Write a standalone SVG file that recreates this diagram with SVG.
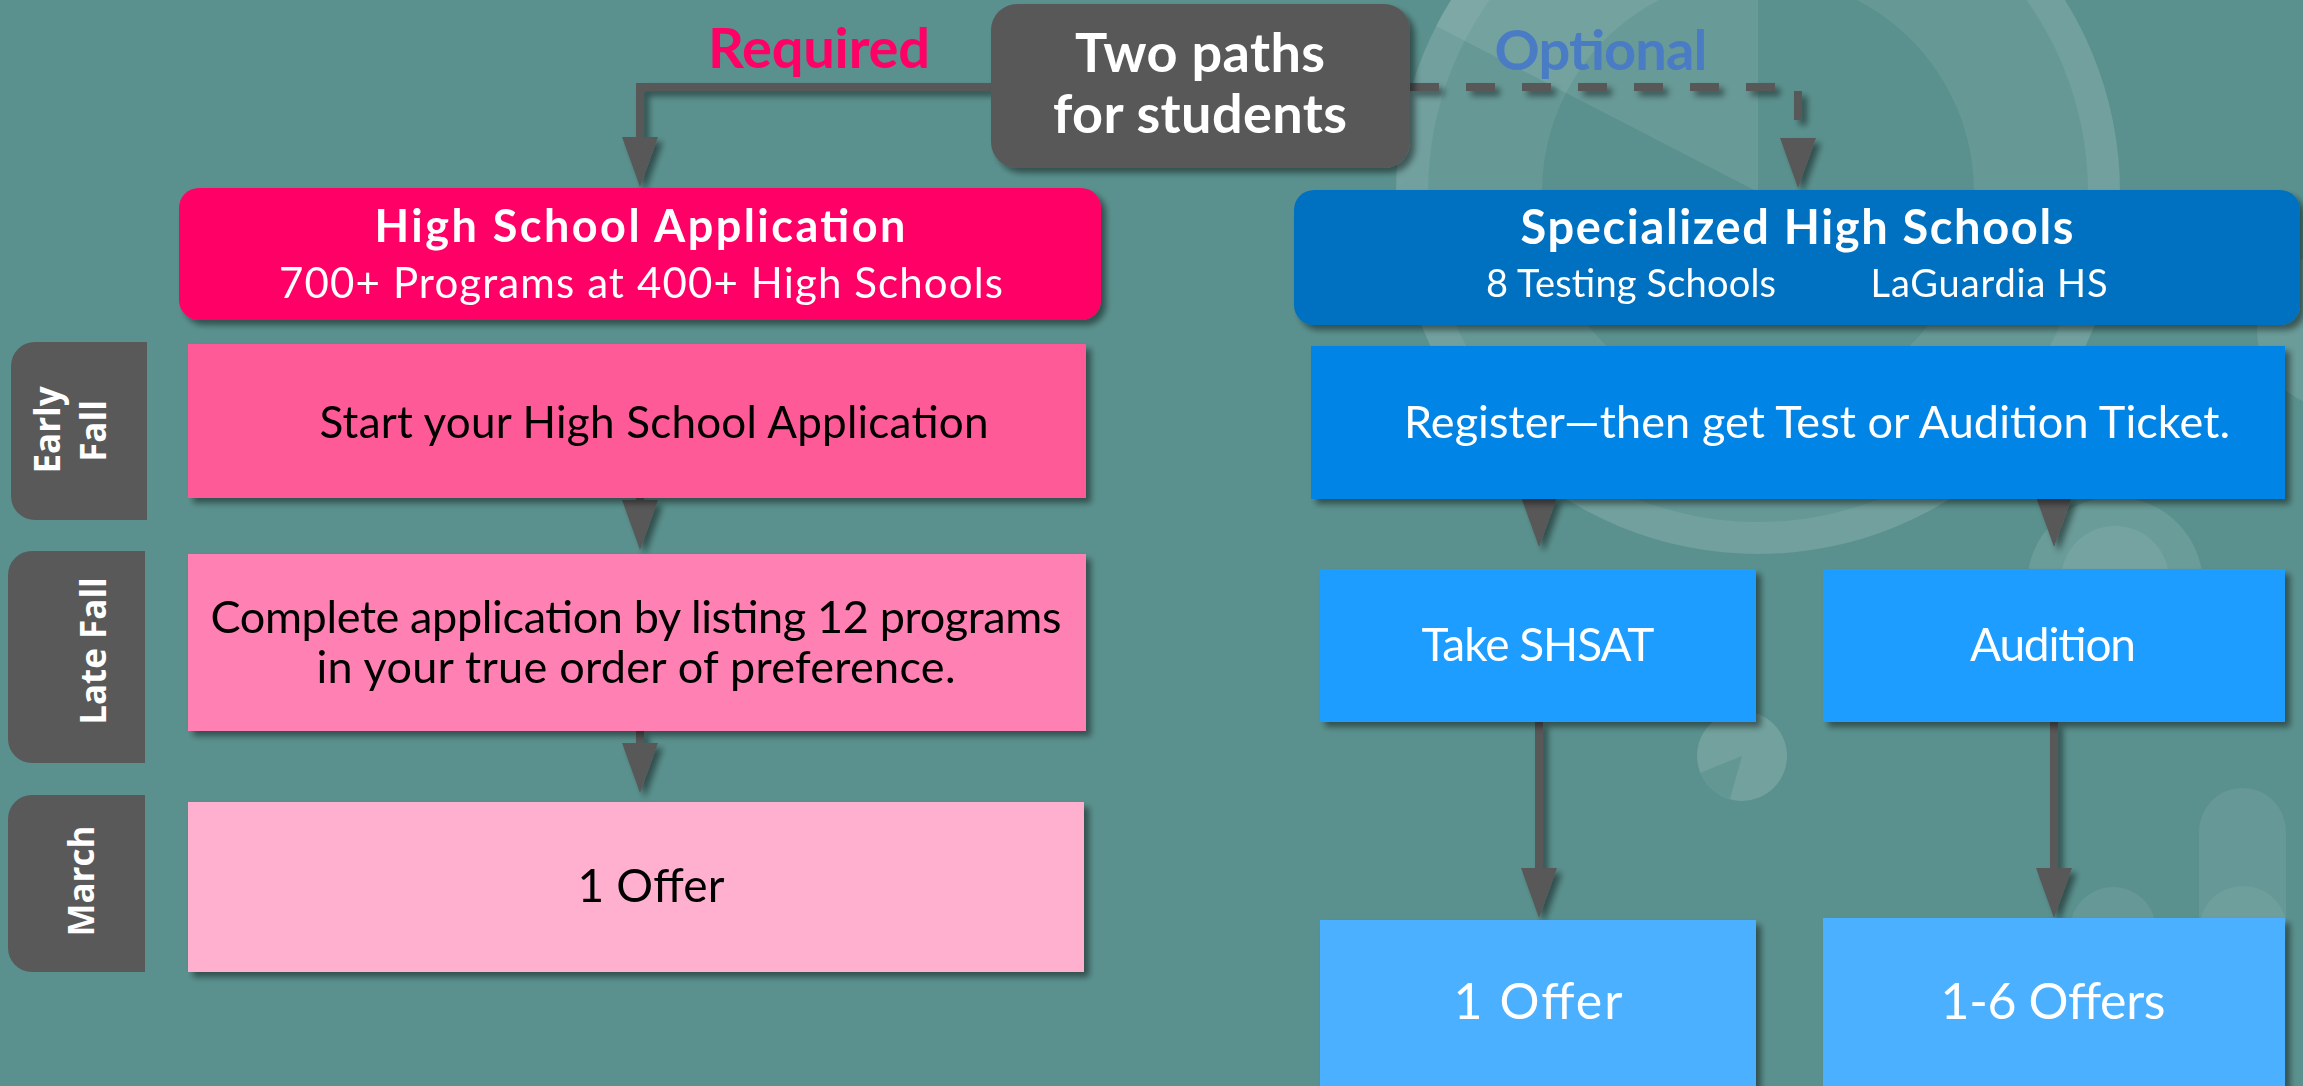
<svg xmlns="http://www.w3.org/2000/svg" width="2303" height="1086" viewBox="0 0 2303 1086">
<style>
.sans{font-family:Lato,"Liberation Sans",sans-serif}
.tab{fill:#595959}
.tabt{font-family:"Open Sans","Liberation Sans",sans-serif;font-weight:700;font-size:35px;fill:#fff}
.wh{fill:#fff}
.bk{fill:#000}
.b{font-weight:700}
.conn{fill:none;stroke:#595959;stroke-width:8}
</style>
<defs>
<filter id="sh" x="-10%" y="-10%" width="130%" height="140%">
<feDropShadow dx="5" dy="5" stdDeviation="3" flood-color="#000" flood-opacity="0.45"/>
</filter>
<marker id="arr" markerUnits="userSpaceOnUse" viewBox="0 0 50 36" markerWidth="50" markerHeight="36" refX="38" refY="18" orient="auto">
<path d="M0,0 L50,18 L0,36 Z" fill="#595959"/>
</marker>
</defs>
<rect x="0" y="0" width="2303" height="1086" fill="#5A918E"/>
<g id="background-decor">
<circle cx="1758" cy="192" r="362" fill="#fff" fill-opacity="0.14"/>
<circle cx="1758" cy="192" r="330" fill="#669996"/>
<circle cx="1758" cy="192" r="216" fill="#5A918E"/>
<path d="M1758,192 L1436,26 A362,362 0 0 1 1758,-170 Z" fill="#fff" fill-opacity="0.09"/>
<circle cx="2115" cy="585" r="88" fill="#fff" fill-opacity="0.1"/>
<circle cx="2115" cy="580" r="54" fill="#fff" fill-opacity="0.08"/>
<circle cx="1742" cy="756" r="45" fill="#fff" fill-opacity="0.15"/>
<path d="M1742,756 L1700,773 A45,45 0 0 0 1730,799 Z" fill="#5A918E" fill-opacity="0.6"/>
<rect x="2199" y="788" width="87" height="400" rx="44" fill="#fff" fill-opacity="0.07"/>
<circle cx="2243" cy="930" r="44" fill="#fff" fill-opacity="0.07"/>
<circle cx="2113" cy="930" r="43" fill="#fff" fill-opacity="0.07"/>
<circle cx="2335" cy="330" r="78" fill="#fff" fill-opacity="0.1"/>
</g>
<g id="connectors" filter="url(#sh)">
<path class="conn" d="M991,87 H640 V175" marker-end="url(#arr)"/>
<path class="conn" d="M1410,87 H1798 V176" stroke-dasharray="29 27" marker-end="url(#arr)"/>
<path class="conn" d="M640,498 V538" marker-end="url(#arr)"/>
<path class="conn" d="M640,731 V781" marker-end="url(#arr)"/>
<path class="conn" d="M1539,499 V535" marker-end="url(#arr)"/>
<path class="conn" d="M2054,499 V535" marker-end="url(#arr)"/>
<path class="conn" d="M1539,722 V906" marker-end="url(#arr)"/>
<path class="conn" d="M2054,722 V906" marker-end="url(#arr)"/>
</g>
<g id="label-required"><text class="sans b" x="819" y="68" font-size="56" fill="#FF0066" text-anchor="middle" textLength="222">Required</text></g>
<g id="label-optional"><text class="sans b" x="1601" y="70" font-size="56" fill="#4A7CC6" text-anchor="middle" textLength="213">Optional</text></g>
<g id="two-paths" filter="url(#sh)">
<rect x="991" y="4" width="419" height="164" rx="26" fill="#595959"/>
<text class="sans b wh" x="1200" y="72" font-size="54" text-anchor="middle" textLength="250">Two paths</text>
<text class="sans b wh" x="1200" y="133" font-size="54" text-anchor="middle" textLength="294">for students</text>
</g>
<g id="hs-application" filter="url(#sh)">
<rect x="179" y="188" width="922" height="132" rx="20" fill="#FF0066"/>
<text class="sans b wh" x="640" y="242" font-size="45" text-anchor="middle" textLength="531">High School Application</text>
<text class="sans wh" x="641" y="298" font-size="42" text-anchor="middle" textLength="724">700+ Programs at 400+ High Schools</text>
</g>
<g id="specialized-hs" filter="url(#sh)">
<rect x="1294" y="190" width="1006" height="135" rx="20" fill="#0070C0"/>
<text class="sans b wh" x="1797" y="244" font-size="47" text-anchor="middle" textLength="553">Specialized High Schools</text>
<text class="sans wh" x="1631" y="297" font-size="38" text-anchor="middle" textLength="290">8 Testing Schools</text>
<text class="sans wh" x="1989" y="297" font-size="38" text-anchor="middle" textLength="237">LaGuardia HS</text>
</g>
<g id="tab-early-fall">
<path class="tab" d="M147,342 H35 A24,24 0 0 0 11,366 V496 A24,24 0 0 0 35,520 H147 Z"/>
<text class="tabt" transform="translate(60,430) rotate(-90)" text-anchor="middle">Early</text>
<text class="tabt" transform="translate(106,431) rotate(-90)" text-anchor="middle">Fall</text>
</g>
<g id="tab-late-fall">
<path class="tab" d="M145,551 H32 A24,24 0 0 0 8,575 V739 A24,24 0 0 0 32,763 H145 Z"/>
<text class="tabt" transform="translate(106,651) rotate(-90)" text-anchor="middle">Late Fall</text>
</g>
<g id="tab-march">
<path class="tab" d="M145,795 H32 A24,24 0 0 0 8,819 V948 A24,24 0 0 0 32,972 H145 Z"/>
<text class="tabt" transform="translate(94,881) rotate(-90)" text-anchor="middle">March</text>
</g>
<g id="start-application" filter="url(#sh)">
<rect x="188" y="344" width="898" height="154" fill="#FF5A98"/>
<text class="sans bk" x="654" y="438" font-size="44" text-anchor="middle" textLength="669">Start your High School Application</text>
</g>
<g id="complete-application" filter="url(#sh)">
<rect x="188" y="554" width="898" height="177" fill="#FF80B2"/>
<text class="sans bk" x="636" y="633" font-size="45" text-anchor="middle" textLength="851">Complete application by listing 12 programs</text>
<text class="sans bk" x="636" y="683" font-size="45" text-anchor="middle" textLength="639">in your true order of preference.</text>
</g>
<g id="one-offer-left" filter="url(#sh)">
<rect x="188" y="802" width="896" height="170" fill="#FFB0CF"/>
<text class="sans bk" x="651" y="902" font-size="46" text-anchor="middle" textLength="147">1 Offer</text>
</g>
<g id="register" filter="url(#sh)">
<rect x="1311" y="346" width="974" height="153" fill="#0084E6"/>
<text class="sans wh" x="1817" y="438" font-size="45" text-anchor="middle" textLength="826">Register—then get Test or Audition Ticket.</text>
</g>
<g id="take-shsat" filter="url(#sh)">
<rect x="1320" y="569" width="436" height="153" fill="#1A9DFF"/>
<text class="sans wh" x="1538" y="661" font-size="46" text-anchor="middle" textLength="233">Take SHSAT</text>
</g>
<g id="audition" filter="url(#sh)">
<rect x="1823" y="569" width="462" height="153" fill="#1A9DFF"/>
<text class="sans wh" x="2053" y="661" font-size="46" text-anchor="middle" textLength="166">Audition</text>
</g>
<g id="one-offer-right" filter="url(#sh)">
<rect x="1320" y="920" width="436" height="180" fill="#4BB0FF"/>
<text class="sans wh" x="1538" y="1019" font-size="50" text-anchor="middle" textLength="169">1 Offer</text>
</g>
<g id="one-six-offers" filter="url(#sh)">
<rect x="1823" y="918" width="462" height="182" fill="#4BB0FF"/>
<text class="sans wh" x="2053" y="1019" font-size="50" text-anchor="middle" textLength="225">1-6 Offers</text>
</g>
</svg>
